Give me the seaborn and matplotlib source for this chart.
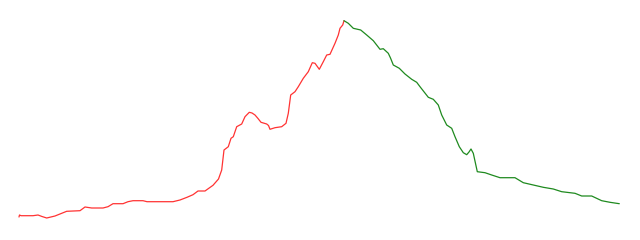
import matplotlib
matplotlib.use("Agg")
import matplotlib.pyplot as plt
import seaborn as sns
import pandas as pd

sns.set_theme(style="white")

# Rising phase (red)
rise_x = [19, 19.5, 21, 33, 38, 42, 46.7, 55, 61.7, 66.7, 80, 85, 91.7, 103, 108, 113, 123, 128,
          133, 143, 147, 173, 180, 187, 193, 198, 205, 213, 218.5, 221.7, 224, 228.3, 231, 233.3,
          236.7, 241.7, 245, 249.3, 252, 255, 258, 261, 266.7, 268.5, 270, 275, 281.7, 286,
          288.3, 290.7, 295, 298.3, 303.3, 308.3, 312.3, 315, 319.3, 323.3, 326.7, 330, 335,
          338.3, 340, 342.7, 344]
rise_y = [23, 25, 24.3, 24.3, 25, 23.5, 22, 24, 26.7, 28.7, 29.3, 33, 32, 32, 33.3, 36.3, 36.3, 38.3,
          39.3, 39.3, 38.3, 38.3, 40, 42.7, 45.3, 49, 49, 54.7, 61, 70, 90, 93.3, 101.7, 103.3,
          113.3, 116, 123.3, 127.7, 127, 125, 121.5, 117.7, 116, 114.5, 110.7, 112.3, 113.3, 116.7,
          126.7, 145, 148.3, 153.3, 161.7, 168.3, 177.3, 176.7, 170.7, 178.3, 185, 185.7, 196.7,
          205, 211.7, 215, 219.3]

# Falling phase (green)
fall_x = [344, 348.3, 353.3, 360.7, 366.7, 373.3, 380, 383.3, 388.3, 390.5, 393.3, 399.3, 405,
          411.7, 416.7, 420, 428.3, 433.3, 438.3, 441.7, 446.7, 451.7, 455, 459.3, 463.3, 466.7,
          469, 471, 473.3, 477.3, 485, 491.7, 500, 515, 523.3, 533.3, 543.3, 553.3, 561.7, 575,
          581.7, 591.7, 601.7, 610, 619.3]
fall_y = [219.3, 216.7, 211.7, 210, 205, 199.3, 190.7, 191.3, 186.7, 182, 175, 171.7, 166,
          160.7, 157.7, 153.3, 142.7, 140.7, 135, 125, 115, 111.7, 103.3, 93.3, 87.3, 85.3,
          88, 91, 86.7, 68.3, 67.3, 65, 62.3, 62.3, 57.3, 55, 52.7, 51, 48.3, 46.7,
          44, 44, 39.3, 37.7, 36.3]

rise = pd.DataFrame({"x": rise_x, "y": rise_y})
fall = pd.DataFrame({"x": fall_x, "y": fall_y})

fig = plt.figure(figsize=(6.4, 2.4), dpi=100)
ax = fig.add_axes([0, 0, 1, 1])
sns.lineplot(data=rise, x="x", y="y", ax=ax, color="#ff3333", linewidth=0.9, sort=False)
sns.lineplot(data=fall, x="x", y="y", ax=ax, color="#1f8a1f", linewidth=0.9, sort=False)
ax.set_xlim(0, 640)
ax.set_ylim(0, 240)
ax.axis("off")
fig.savefig("out.png", dpi=100, facecolor="white")
